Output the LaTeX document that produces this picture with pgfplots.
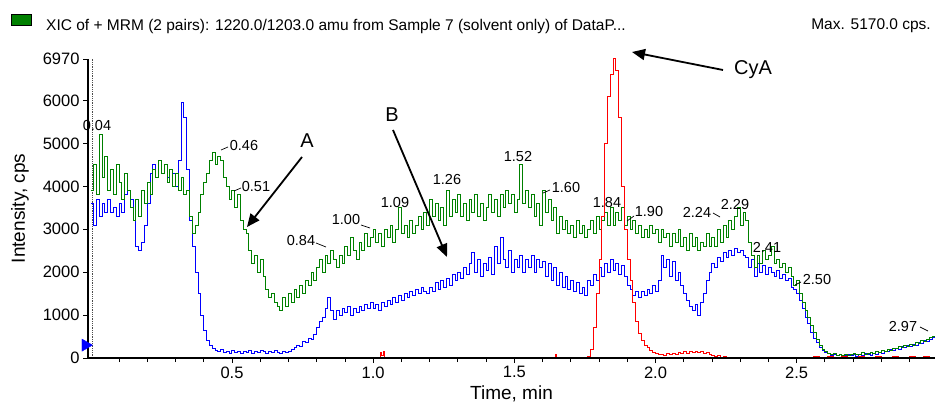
\documentclass[border=0pt]{standalone}
\usepackage{pgfplots}
\pgfplotsset{compat=1.18}
\usepackage{pgfplotstable}
\usepackage{fontspec}
\setmainfont{Liberation Sans}
\usetikzlibrary{arrows.meta}
\definecolor{cgreen}{RGB}{0,128,0}
\definecolor{cblue}{RGB}{0,0,255}
\definecolor{cred}{RGB}{255,0,0}
\pgfplotstableread{
t g b
0.00 3900 3600
0.01 4500 3100
0.02 3800 3700
0.03 5200 3300
0.04 4200 3600
0.05 4700 3400
0.06 3900 3700
0.07 4400 3400
0.08 3800 3500
0.09 4500 3300
0.10 4100 3600
0.11 3700 3400
0.12 4300 3800
0.13 3900 3900
0.14 3500 3700
0.15 3200 3200
0.16 3700 2600
0.17 3300 2500
0.18 3900 2700
0.19 3600 3100
0.20 4100 3600
0.21 3800 4300
0.22 4400 4500
0.23 4200 4200
0.24 4600 4600
0.25 4300 4300
0.26 4500 4500
0.27 4100 4200
0.28 4400 4400
0.29 4000 4300
0.30 4300 4000
0.31 3900 4600
0.32 4200 5950
0.33 3800 5600
0.34 3900 4400
0.35 3300 3200
0.36 2900 2600
0.37 3100 2000
0.38 3400 1500
0.39 3800 1000
0.40 4100 650
0.41 4300 400
0.42 4600 300
0.43 4800 220
0.44 4500 180
0.45 4700 150
0.46 4600 200
0.47 4200 120
0.48 4000 160
0.49 3700 110
0.50 3900 170
0.51 3500 120
0.52 3800 150
0.53 3200 100
0.54 3000 160
0.55 2900 130
0.56 2500 180
0.57 2200 110
0.58 2400 150
0.59 2000 120
0.60 2300 170
0.61 1900 140
0.62 1600 110
0.63 1400 150
0.64 1500 120
0.65 1300 170
0.66 1200 130
0.67 1100 110
0.68 1400 140
0.69 1200 120
0.70 1500 160
0.71 1300 200
0.72 1600 240
0.73 1400 300
0.74 1700 270
0.75 1500 380
0.76 1800 350
0.77 1700 450
0.78 2000 420
0.79 1800 550
0.80 2100 700
0.81 2300 850
0.82 2000 950
0.83 2400 1150
0.84 2200 1400
0.85 2500 1100
0.86 2300 900
0.87 2100 1100
0.88 2400 1000
0.89 2200 1150
0.90 2600 1050
0.91 2400 1200
0.92 2800 1000
0.93 2500 1150
0.94 2300 1050
0.95 2700 1200
0.96 2500 1100
0.97 2900 1250
0.98 2600 1150
0.99 2800 1300
1.00 3000 1150
1.01 2700 1250
1.02 2900 1100
1.03 2600 1300
1.04 3000 1200
1.05 2800 1350
1.06 3100 1250
1.07 2700 1400
1.08 3000 1300
1.09 3500 1450
1.10 2900 1350
1.11 3100 1500
1.12 2800 1400
1.13 3200 1550
1.14 2900 1450
1.15 3100 1600
1.16 3300 1500
1.17 3000 1650
1.18 3400 1550
1.19 3100 1500
1.20 3700 1650
1.21 3300 1550
1.22 3600 1750
1.23 3200 1600
1.24 3500 1800
1.25 3100 1650
1.26 3900 1850
1.27 3300 1700
1.28 3700 1950
1.29 3400 1800
1.30 3800 2000
1.31 3300 1850
1.32 3600 2100
1.33 3200 1950
1.34 3700 2200
1.35 3400 2450
1.36 3800 2000
1.37 3300 2300
1.38 3600 1900
1.39 3200 2200
1.40 3500 2050
1.41 3800 2350
1.42 3400 1950
1.43 3700 2600
1.44 3300 2200
1.45 3800 2800
1.46 3500 2300
1.47 3900 2100
1.48 3600 2500
1.49 3800 2000
1.50 3400 2300
1.51 3700 2100
1.52 4500 2400
1.53 3600 2000
1.54 3900 2300
1.55 3500 2100
1.56 3800 2400
1.57 3300 2000
1.58 3600 2300
1.59 3100 2100
1.60 3900 2250
1.61 3400 1900
1.62 3700 2200
1.63 3200 1800
1.64 3500 2100
1.65 2900 1700
1.66 3300 2000
1.67 3000 1650
1.68 3200 1900
1.69 2900 1600
1.70 3100 1800
1.71 2800 1550
1.72 3200 1750
1.73 2900 1500
1.74 3100 1650
1.75 2800 1450
1.76 3000 1800
1.77 3200 1700
1.78 2900 1950
1.79 3300 1800
1.80 3000 2100
1.81 3200 1900
1.82 3400 2200
1.83 3100 2000
1.84 3500 2300
1.85 3100 2050
1.86 3400 2200
1.87 3200 1950
1.88 3500 2150
1.89 3100 1900
1.90 3300 1700
1.91 3000 1600
1.92 3200 1450
1.93 2900 1550
1.94 3100 1400
1.95 2800 1550
1.96 3000 1450
1.97 2800 1600
1.98 3100 1500
1.99 2900 1700
2.00 3000 1550
2.01 2700 1800
2.02 3000 2400
2.03 2800 2100
2.04 2900 2300
2.05 2600 1900
2.06 2900 2250
2.07 2700 1800
2.08 3000 2000
2.09 2600 1700
2.10 2800 1500
2.11 2500 1350
2.12 2900 1200
2.13 2600 1100
2.14 2800 1250
2.15 2500 1000
2.16 2700 1300
2.17 2600 1500
2.18 2900 1800
2.19 2600 2000
2.20 2800 2200
2.21 2600 2100
2.22 3000 2350
2.23 2700 2250
2.24 3100 2450
2.25 2800 2350
2.26 3200 2500
2.27 3000 2400
2.28 3300 2550
2.29 3500 2450
2.30 3100 2500
2.31 3400 2400
2.32 3200 2350
2.33 2700 2100
2.34 2400 2300
2.35 2100 1900
2.36 2400 2200
2.37 2200 2000
2.38 2500 2150
2.39 2300 1950
2.40 2400 2100
2.41 2600 2000
2.42 2200 1900
2.43 2300 2050
2.44 2100 1850
2.45 2200 1950
2.46 2000 1800
2.47 2100 1850
2.48 1900 1650
2.49 1700 1600
2.50 1800 1500
2.51 1500 1350
2.52 1300 1150
2.53 1100 950
2.54 950 800
2.55 750 600
2.56 600 450
2.57 420 350
2.58 300 250
2.59 200 180
2.60 150 130
2.61 100 100
2.62 80 60
2.63 100 90
2.64 60 50
2.65 80 70
2.66 50 40
2.67 90 60
2.68 60 80
2.69 80 50
2.70 100 70
2.71 70 40
2.72 90 80
2.73 120 60
2.74 80 100
2.75 100 70
2.76 130 60
2.77 100 110
2.78 150 80
2.79 120 130
2.80 170 110
2.81 140 160
2.82 200 140
2.83 180 190
2.84 230 170
2.85 210 230
2.86 260 200
2.87 240 260
2.88 290 240
2.89 270 290
2.90 320 270
2.91 300 320
2.92 360 300
2.93 340 360
2.94 400 340
2.95 380 400
2.96 440 380
2.97 470 440
2.98 510 470
2.99 560 520
}\traces
\begin{document}
\begin{tikzpicture}
\useasboundingbox (0pt,0pt) rectangle (935pt,402pt);
\begin{axis}[
  at={(88pt,44pt)}, anchor=south west,
  scale only axis, width=847pt, height=299pt,
  xmin=-0.01, xmax=2.99, ymin=0, ymax=6970,
  clip=false,
  axis on top,
  axis lines=left,
  x axis line style={-, line width=1.6pt},
  y axis line style={-, line width=1.3pt},
  tick align=outside,
  major tick length=5pt, minor tick length=4pt,
  tick style={black, line width=0.8pt},
  xtick={0.5,1.0,1.5,2.0,2.5},
  minor xtick={0.1,0.2,0.3,0.4,0.6,0.7,0.8,0.9,1.1,1.2,1.3,1.4,1.6,1.7,1.8,1.9,2.1,2.2,2.3,2.4,2.6,2.7,2.8,2.9},
  ytick={0,1000,2000,3000,4000,5000,6000,6970},
  scaled ticks=false,
  xticklabel style={/pgf/number format/.cd, fixed, fixed zerofill, precision=1, assume math mode=true},
  yticklabel style={/pgf/number format/.cd, fixed, 1000 sep={}, assume math mode=true},
  ticklabel style={font=\fontsize{16.5}{18}\selectfont},
  label style={font=\fontsize{19}{22}\selectfont},
  xlabel={Time, min},
  ylabel={Intensity, cps},
  xlabel style={at={(axis description cs:0.5,0)}, anchor=center, yshift=-36pt},
  ylabel style={at={(axis description cs:0,0.5)}, anchor=center, yshift=68pt},
]
\draw[densely dotted, black!70, line width=0.8pt] (axis cs:0.005,0) -- (axis cs:0.005,6970);
\addplot[const plot, cblue, line width=1.0pt] table[x=t, y=b] {\traces};
\addplot[const plot, cgreen, line width=1.0pt] table[x=t, y=g] {\traces};
\addplot[const plot, cred, line width=1.0pt] coordinates {
(0.00,0) (1.02,0) (1.025,120) (1.03,60) (1.035,150) (1.04,0) (1.64,0) (1.645,90) (1.65,0)
(1.75,0) (1.76,30) (1.77,200) (1.78,700) (1.79,1500) (1.80,2300) (1.81,3300) (1.82,5000)
(1.83,6100) (1.84,6600) (1.85,6970) (1.86,6700) (1.87,5600) (1.88,4000) (1.89,3000)
(1.90,2300) (1.91,1800) (1.92,1300) (1.93,850) (1.94,580) (1.95,400) (1.96,300) (1.97,240)
(1.98,170) (1.99,130) (2.00,100) (2.01,70) (2.02,90) (2.03,60) (2.04,100) (2.05,80)
(2.06,110) (2.07,90) (2.08,120) (2.09,100) (2.10,140) (2.11,110) (2.12,150) (2.13,130)
(2.14,160) (2.15,120) (2.16,150) (2.17,110) (2.18,130) (2.19,90) (2.20,60) (2.21,40)
(2.22,50) (2.23,20) (2.24,30) (2.25,0) (2.55,0) (2.56,40) (2.58,0) (2.61,40) (2.63,0)
(2.66,40) (2.68,0) (2.72,40) (2.74,0) (2.78,40) (2.80,0) (2.84,40) (2.86,0) (2.90,40)
(2.92,0) (2.95,40) (2.97,0) (2.99,0)};
\addplot[only marks, mark=triangle*, mark size=7pt, cblue, mark options={rotate=-90}] coordinates {(-0.019,300)};
\end{axis}
\begin{scope}[shift={(0pt,402pt)}, x=1pt, y=-1pt]
  % header
  \draw[black, fill=cgreen, line width=0.6pt] (11,14) rectangle (31,25);
  \node[anchor=west, inner sep=0pt, font=\fontsize{15.5}{18}\selectfont] at (46,26) {XIC of + MRM (2 pairs): 1220.0/1203.0 amu from Sample 7 (solvent only) of DataP...};
  \node[anchor=east, inner sep=0pt, font=\fontsize{15.5}{18}\selectfont] at (931,26) {Max. 5170.0 cps.};
  % peak labels
  \begin{scope}[every node/.style={inner sep=0pt, font=\fontsize{14.5}{16}\selectfont}]
    \node at (97,126) {0.04};
    \node at (244,146) {0.46};
    \node at (256,187) {0.51};
    \node at (301,241) {0.84};
    \node at (346,220) {1.00};
    \node at (395,203) {1.09};
    \node at (447,180) {1.26};
    \node at (518,157) {1.52};
    \node at (566,188) {1.60};
    \node at (607,203) {1.84};
    \node at (649,212) {1.90};
    \node at (697,212) {2.24};
    \node at (735,205) {2.29};
    \node at (767,247) {2.41};
    \node at (817,280) {2.50};
    \node at (903,327) {2.97};
  \end{scope}
  \begin{scope}[line width=0.7pt]
    \draw (221,150) -- (228,147);
    \draw (234,191) -- (241,188);
    \draw (316,243) -- (326,247);
    \draw (361,225) -- (370,228);
    \draw (543,193) -- (550,190);
    \draw (627,221) -- (634,216);
    \draw (713,213) -- (720,217);
    \draw (795,285) -- (801,282);
    \draw (920,327) -- (928,331);
  \end{scope}
  % annotations
  \node[font=\fontsize{20}{22}\selectfont, inner sep=0pt] at (307,141) {A};
  \node[font=\fontsize{20}{22}\selectfont, inner sep=0pt] at (392,115) {B};
  \node[font=\fontsize{20}{22}\selectfont, inner sep=0pt] at (753,70) {CyA};
  \draw[line width=1.8pt, -{Triangle[length=13pt,width=11pt]}] (302,157) -- (247,227);
  \draw[line width=1.8pt, -{Triangle[length=13pt,width=11pt]}] (393,130) -- (447,257);
  \draw[line width=1.8pt, -{Triangle[length=13pt,width=11pt]}] (723,70) -- (632,52);
\end{scope}
\end{tikzpicture}
\end{document}
